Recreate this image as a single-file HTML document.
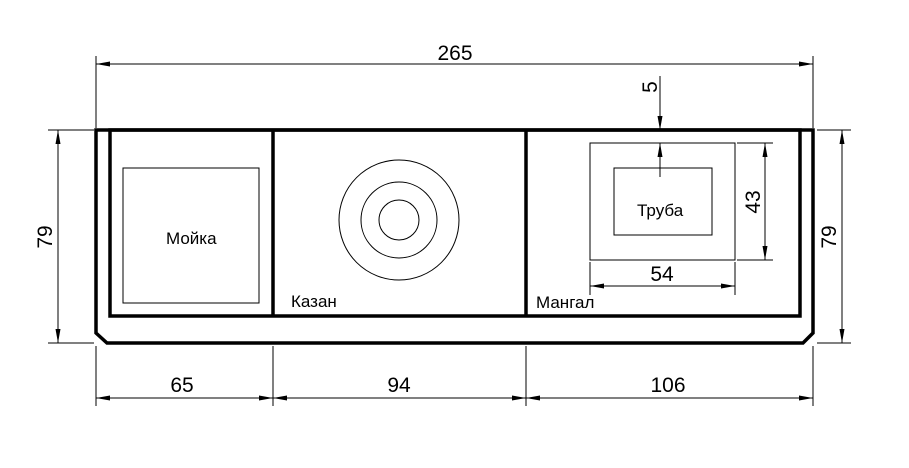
<!DOCTYPE html>
<html><head><meta charset="utf-8"><style>html,body{margin:0;padding:0;background:#fff}svg{display:block}</style></head><body>
<svg width="909" height="468" viewBox="0 0 909 468" xmlns="http://www.w3.org/2000/svg" font-family="Liberation Sans, Arial, sans-serif">
<defs>
<marker id="a" viewBox="0 0 14 5" refX="14" refY="2.5" markerWidth="14" markerHeight="5" markerUnits="userSpaceOnUse" orient="auto-start-reverse"><path d="M0,0 L14,2.5 L0,5 z" fill="#000"/></marker>
</defs>
<g fill="none" stroke="#000" stroke-width="3.5">
<path d="M96,130 L813,130 L813,333 L803,343 L107,343 L96,333 Z"/>
<rect x="110" y="130" width="690" height="186"/>
<line x1="273" y1="130" x2="273" y2="316"/>
<line x1="526" y1="130" x2="526" y2="316"/>
</g>
<g fill="none" stroke="#000" stroke-width="1">
<rect x="123" y="168" width="136" height="135"/>
<circle cx="399" cy="220" r="60"/>
<circle cx="399" cy="220" r="38"/>
<circle cx="399" cy="220" r="20"/>
<rect x="590" y="143" width="145" height="117"/>
<rect x="614" y="168" width="98" height="67"/>
<line x1="96" y1="56" x2="96" y2="128"/>
<line x1="813" y1="56" x2="813" y2="128"/>
<line x1="48" y1="130" x2="94" y2="130"/>
<line x1="48" y1="343" x2="94" y2="343"/>
<line x1="817" y1="130" x2="851" y2="130"/>
<line x1="817" y1="343" x2="851" y2="343"/>
<line x1="96" y1="346" x2="96" y2="406"/>
<line x1="273" y1="346" x2="273" y2="406"/>
<line x1="526" y1="346" x2="526" y2="406"/>
<line x1="813" y1="346" x2="813" y2="406"/>
<line x1="737" y1="143" x2="773" y2="143"/>
<line x1="737" y1="260" x2="773" y2="260"/>
<line x1="590" y1="262" x2="590" y2="295"/>
<line x1="735" y1="262" x2="735" y2="295"/>
<line x1="96" y1="64" x2="813" y2="64" marker-start="url(#a)" marker-end="url(#a)"/>
<line x1="58" y1="130" x2="58" y2="343" marker-start="url(#a)" marker-end="url(#a)"/>
<line x1="842" y1="130" x2="842" y2="343" marker-start="url(#a)" marker-end="url(#a)"/>
<line x1="96" y1="398" x2="273" y2="398" marker-start="url(#a)" marker-end="url(#a)"/>
<line x1="273" y1="398" x2="526" y2="398" marker-start="url(#a)" marker-end="url(#a)"/>
<line x1="526" y1="398" x2="813" y2="398" marker-start="url(#a)" marker-end="url(#a)"/>
<line x1="765" y1="143" x2="765" y2="260" marker-start="url(#a)" marker-end="url(#a)"/>
<line x1="590" y1="286" x2="735" y2="286" marker-start="url(#a)" marker-end="url(#a)"/>
<line x1="660" y1="76" x2="660" y2="130" marker-end="url(#a)"/>
<line x1="660" y1="177" x2="660" y2="143" marker-end="url(#a)"/>
</g>
<g fill="#000" font-size="21" text-anchor="middle">
<text x="455" y="60">265</text>
<text x="182" y="392">65</text>
<text x="399" y="392">94</text>
<text x="668" y="392">106</text>
<text x="662" y="281">54</text>
<text transform="translate(52,237) rotate(-90)">79</text>
<text transform="translate(836,237) rotate(-90)">79</text>
<text transform="translate(760,202) rotate(-90)">43</text>
<text transform="translate(657,87) rotate(-90)">5</text>
</g>
<g fill="#000" font-size="17">
<text x="166" y="244">Мойка</text>
<text x="637" y="216">Труба</text>
<text x="291" y="307">Казан</text>
<text x="536" y="308">Мангал</text>
</g>
</svg>
</body></html>
